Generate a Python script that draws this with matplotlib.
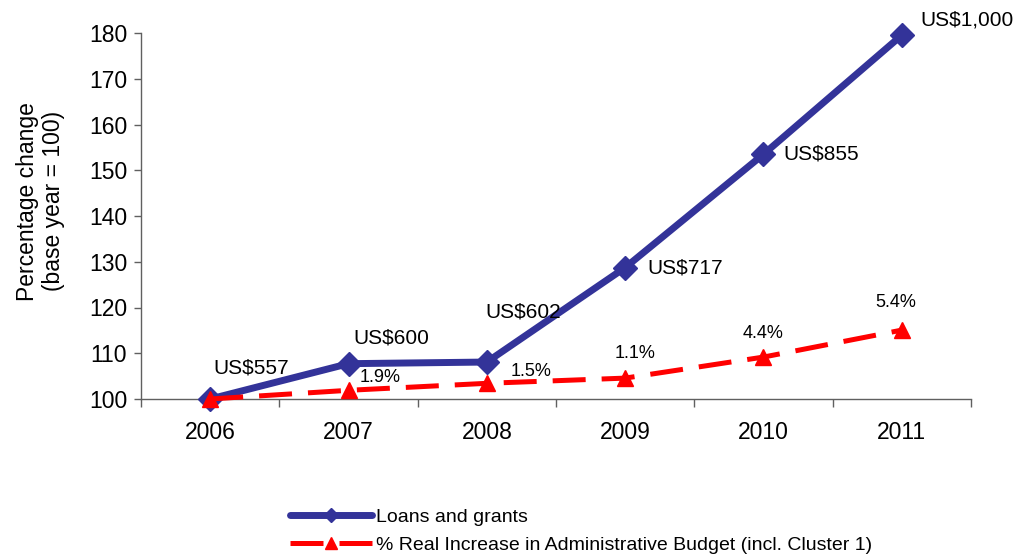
import matplotlib
matplotlib.use("Agg")
import matplotlib.pyplot as plt
from matplotlib.lines import Line2D
import numpy as np

plt.rcParams['font.family'] = ['Liberation Sans', 'DejaVu Sans']

years = ["2006", "2007", "2008", "2009", "2010", "2011"]
loans_usd = [557, 600, 602, 717, 855, 1000]
loans_labels = ["US$557", "US$600", "US$602", "US$717", "US$855", "US$1,000"]
budget_pct = [None, 1.9, 1.5, 1.1, 4.4, 5.4]
budget_labels = ["", "1.9%", "1.5%", "1.1%", "4.4%", "5.4%"]

# Index series, base year = 100
loans_index = [v / loans_usd[0] * 100 for v in loans_usd]
budget_index = [100.0]
for p in budget_pct[1:]:
    budget_index.append(budget_index[-1] * (1 + p / 100))

BLUE = "#333399"
RED = "#FF0000"
AXIS_GREY = "#606060"

fig = plt.figure(figsize=(10.18, 5.57), dpi=100)
ax = fig.add_axes([141 / 1018, 1 - 399 / 557, 830 / 1018, 366 / 557])

x = np.arange(len(years))
ax.plot(x, loans_index, color=BLUE, lw=5, marker="D", ms=12,
        mfc=BLUE, mec=BLUE, clip_on=False, zorder=3)
ax.plot(x, budget_index, color=RED, lw=3.6, dashes=(6.6, 3.2), marker="^", ms=11,
        mfc=RED, mec=RED, clip_on=False, zorder=4)

# label offsets in pixels: (dx, dy, ha)
px = 72 / 100
loan_offsets = [(3, 31, "left"), (5, 26, "left"), (-1, 50, "left"),
                (22, 0, "left"), (20, 0, "left"), (19, 15, "left")]
for xi, yi, lab, (dx, dy, ha) in zip(x, loans_index, loans_labels, loan_offsets):
    ax.annotate(lab, (xi, yi), xytext=(dx * px, dy * px), textcoords="offset points",
                ha=ha, va="center", fontsize=15, color="black")

pct_offsets = [None, (11, 13, "left"), (24, 12, "left"), (10, 25, "center"),
               (0, 24, "center"), (-6, 28, "center")]
for xi, yi, lab, off in zip(x, budget_index, budget_labels, pct_offsets):
    if off is None:
        continue
    dx, dy, ha = off
    ax.annotate(lab, (xi, yi), xytext=(dx * px, dy * px), textcoords="offset points",
                ha=ha, va="center", fontsize=13, color="black")

ax.set_xlim(-0.5, len(years) - 0.5)
ax.set_ylim(100, 180)
ax.set_yticks(np.arange(100, 181, 10))
ax.tick_params(axis="y", labelsize=16.5, length=5, width=1, color=AXIS_GREY, pad=5)

ax.set_xticks(np.arange(-0.5, len(years), 1))
ax.set_xticklabels([])
ax.set_xticks(x, minor=True)
ax.set_xticklabels(years, minor=True)
ax.tick_params(axis="x", which="major", length=6, width=1, color=AXIS_GREY)
ax.tick_params(axis="x", which="minor", length=0, labelsize=16.5, pad=16)

for s in ["top", "right"]:
    ax.spines[s].set_visible(False)
for s in ["left", "bottom"]:
    ax.spines[s].set_color(AXIS_GREY)
    ax.spines[s].set_linewidth(1)

ax.set_ylabel("Percentage change\n(base year = 100)", fontsize=16.5, linespacing=1.2)
ax.yaxis.set_label_coords(-0.091, 0.54)

handles = [
    Line2D([], [], color=BLUE, lw=5, marker="D", ms=7, mfc=BLUE, mec=BLUE,
           solid_capstyle="round"),
    Line2D([], [], color=RED, lw=3.6, dashes=(6.6, 3.2), marker="^", ms=9,
           mfc=RED, mec=RED),
]
labels = ["Loans and grants",
          "% Real Increase in Administrative Budget (incl. Cluster 1)"]
leg = fig.legend(handles, labels, loc="upper left",
                 bbox_to_anchor=(290 / 1018, 1 - 508 / 557),
                 frameon=False, fontsize=14, handlelength=4.2, handletextpad=0.2,
                 labelspacing=0.55, borderpad=0, borderaxespad=0, numpoints=1)

fig.savefig("out.png", dpi=100)
